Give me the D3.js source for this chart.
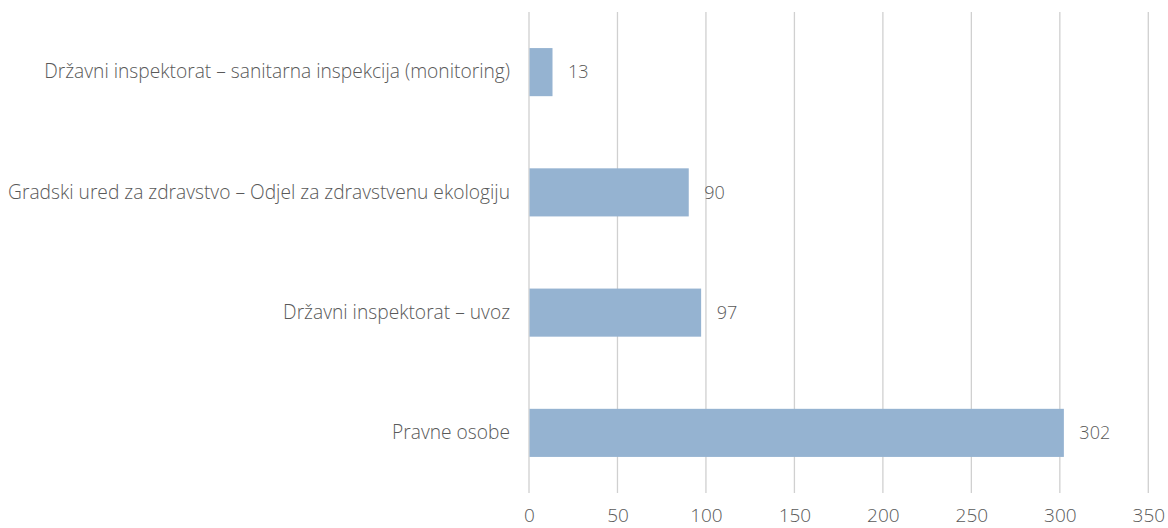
<!DOCTYPE html>
<html>
<head>
<meta charset="utf-8">
<script src="https://cdn.jsdelivr.net/npm/d3@7"></script>
<style>
  html, body { margin: 0; padding: 0; background: #fff; }
  svg text { font-family: "Open Sans", "Noto Sans", sans-serif; font-weight: 300; fill: #595959; }
</style>
</head>
<body>
<svg id="chart" width="1168" height="528"></svg>
<script>
const categories = [
  "Državni inspektorat – sanitarna inspekcija (monitoring)",
  "Gradski ured za zdravstvo – Odjel za zdravstvenu ekologiju",
  "Državni inspektorat – uvoz",
  "Pravne osobe"
];
const values = [13, 90, 97, 302];
const xTicks = [0, 50, 100, 150, 200, 250, 300, 350];

const svg = d3.select("#chart");
const margin = { left: 529, right: 20, top: 12, bottom: 35 };
const W = 1168, H = 528;

const x = d3.scaleLinear().domain([0, 350]).range([margin.left, 1148.3]);
const y = d3.scaleBand().domain(categories).range([margin.top, H - margin.bottom]).paddingInner(0.6).paddingOuter(0.3);

// gridlines
svg.append("g").selectAll("line").data(xTicks).join("line")
  .attr("x1", d => x(d)).attr("x2", d => x(d))
  .attr("y1", margin.top).attr("y2", H - margin.bottom)
  .attr("stroke", "#d0d0d0").attr("stroke-width", 1.3);

// bars
svg.append("g").selectAll("rect").data(values).join("rect")
  .attr("x", x(0) + 0.5)
  .attr("y", (d, i) => y(categories[i]))
  .attr("width", d => x(d) - x(0))
  .attr("height", y.bandwidth())
  .attr("fill", "#95b3d1");

// value labels
svg.append("g").selectAll("text").data(values).join("text")
  .attr("x", d => x(d) + 16)
  .attr("y", (d, i) => y(categories[i]) + y.bandwidth() / 2)
  .attr("dy", "0.35em")
  .attr("font-size", 18)
  .text(d => d);

// category labels
const yAxis = d3.axisLeft(y).tickSize(0).tickPadding(19);
const gy = svg.append("g").attr("transform", `translate(${x(0)},0)`).call(yAxis);
gy.select(".domain").remove();
gy.selectAll("text").attr("font-size", 19.2);
gy.attr("font-family", null);

// x axis tick labels
const xAxis = d3.axisBottom(x).tickValues(xTicks).tickSize(0).tickPadding(16);
const gx = svg.append("g").attr("transform", `translate(0,${H - margin.bottom})`).call(xAxis);
gx.select(".domain").remove();
gx.selectAll("text").attr("font-size", 19);
gx.attr("font-family", null);
</script>
</body>
</html>
